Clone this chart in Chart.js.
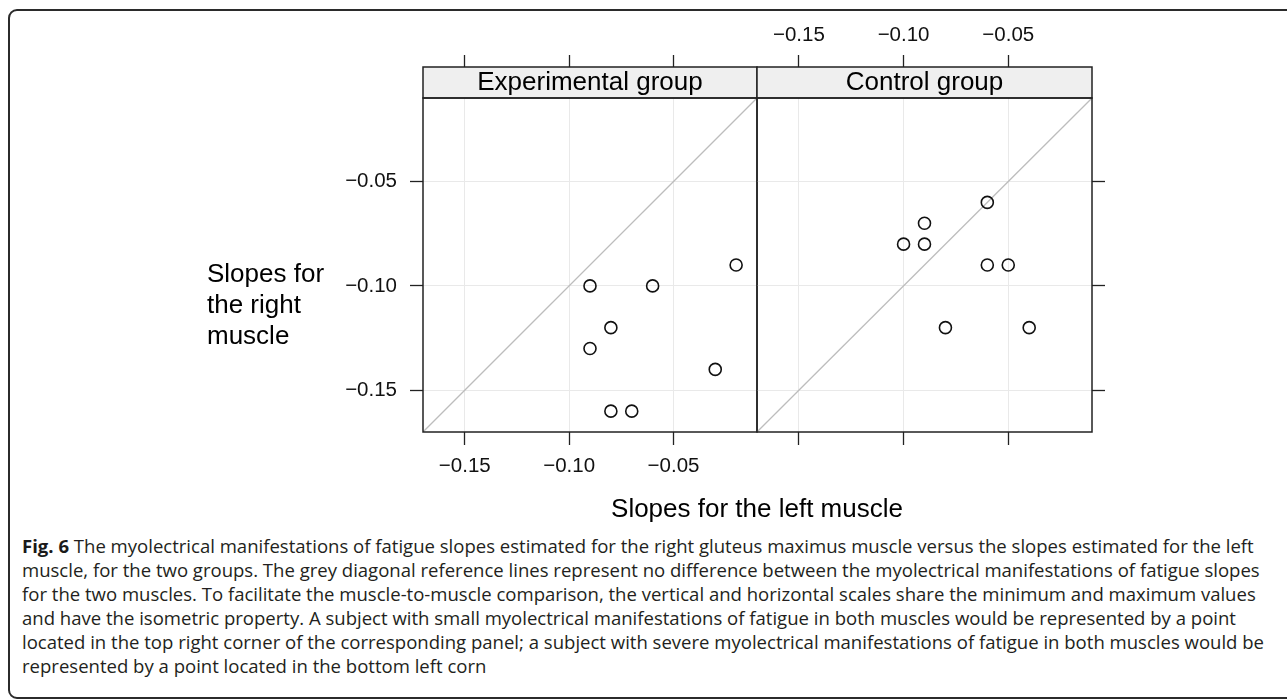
<!DOCTYPE html>
<html>
<head>
<meta charset="utf-8">
<script src="https://cdn.jsdelivr.net/npm/chart.js@4.4.1/dist/chart.umd.min.js"></script>
<style>
  html, body { margin:0; padding:0; background:#fff; width:1287px; height:699px; overflow:hidden; }
  body { position:relative; font-family:'Liberation Sans', Arial, sans-serif; color:#000; }
  #frame { position:absolute; left:8px; top:9px; width:1330px; height:690px; border:2px solid #2b2b2b; border-radius:9px; box-sizing:border-box; }
  canvas { position:absolute; left:0; top:0; }
  .strip { position:absolute; top:66px; height:32px; line-height:30px; font-size:26px; text-align:center; white-space:nowrap; }
  #ytitle { position:absolute; left:207px; top:258px; font-size:26px; line-height:31px; white-space:nowrap; }
  #xtitle { position:absolute; left:757px; top:493px; transform:translateX(-50%); font-size:26px; line-height:30px; white-space:nowrap; }
  #caption { position:absolute; left:22px; top:534px; font-family:'Open Sans', 'Noto Sans', sans-serif; font-size:17.5px; line-height:24px; color:#231f20; }
  #caption div { white-space:nowrap; transform-origin:0 50%; }
  #caption b { font-weight:700; color:#1a1a1a; }
</style>
</head>
<body>
<div id="frame"></div>
<canvas id="c1" width="1287" height="520"></canvas>
<canvas id="c2" width="1287" height="520"></canvas>
<div class="strip" id="s1"></div>
<div class="strip" id="s2"></div>
<div id="ytitle">Slopes for<br>the right<br>muscle</div>
<div id="xtitle">Slopes for the left muscle</div>
<div id="caption">
  <div><b>Fig. 6</b> The myolectrical manifestations of fatigue slopes estimated for the right gluteus maximus muscle versus the slopes estimated for the left</div>
  <div>muscle, for the two groups. The grey diagonal reference lines represent no difference between the myolectrical manifestations of fatigue slopes</div>
  <div>for the two muscles. To facilitate the muscle-to-muscle comparison, the vertical and horizontal scales share the minimum and maximum values</div>
  <div>and have the isometric property. A subject with small myolectrical manifestations of fatigue in both muscles would be represented by a point</div>
  <div>located in the top right corner of the corresponding panel; a subject with severe myolectrical manifestations of fatigue in both muscles would be</div>
  <div>represented by a point located in the bottom left corn</div>
</div>
<script>
// ---- data ----
const panelTitles = ["Experimental group", "Control group"];
const expLeft  = [-0.09, -0.06, -0.02, -0.08, -0.09, -0.03, -0.08, -0.07];
const expRight = [-0.10, -0.10, -0.09, -0.12, -0.13, -0.14, -0.16, -0.16];
const ctlLeft  = [-0.06, -0.09, -0.10, -0.09, -0.06, -0.05, -0.08, -0.04];
const ctlRight = [-0.06, -0.07, -0.08, -0.08, -0.09, -0.09, -0.12, -0.12];
const tickValues = [-0.15, -0.10, -0.05];
const axisRange = [-0.17, -0.01];
const diagonal = [-0.17, -0.01];

// ---- layout constants ----
const CW = 1287, CH = 520;
const P = { top: 98, bottom: 432, left: 423, mid: 757, right: 1092 };
const STRIP_H = 31;
const TICK_FONT = { family: "'Liberation Sans', Arial, sans-serif", size: 20.5 };
const GRID = '#e9e9e9', INK = '#222';

function fmt(v) { return (v < 0 ? '\u2212' : '') + Math.abs(v).toFixed(2); }
function setTicks(s) { s.ticks = tickValues.map(v => ({ value: v })); }
function blank() { return ''; }

const panelPlugin = {
  id: 'panelPlugin',
  afterDraw(chart) {
    const { ctx, chartArea: a } = chart;
    ctx.save();
    ctx.fillStyle = '#efefef';
    ctx.fillRect(a.left, a.top - STRIP_H, a.right - a.left, STRIP_H);
    ctx.strokeStyle = INK;
    ctx.lineWidth = 1.5;
    ctx.strokeRect(a.left, a.top - STRIP_H, a.right - a.left, STRIP_H);
    ctx.strokeRect(a.left, a.top, a.right - a.left, a.bottom - a.top);
    ctx.restore();
  }
};

function datasets(xs, ys) {
  return [
    { type: 'scatter', data: xs.map((x, i) => ({ x: x, y: ys[i] })),
      pointStyle: 'circle', pointRadius: 6, pointHoverRadius: 6, borderWidth: 1.6,
      borderColor: '#111', backgroundColor: 'rgba(0,0,0,0)', order: 0 },
    { type: 'line', data: diagonal.map(v => ({ x: v, y: v })),
      borderColor: '#bdbdbd', borderWidth: 1.3, pointRadius: 0, fill: false, order: 1 }
  ];
}

function axis(position, opts) {
  return Object.assign({
    type: 'linear', position: position, min: axisRange[0], max: axisRange[1],
    afterBuildTicks: setTicks,
    border: { display: false },
  }, opts);
}

const common = {
  responsive: false, animation: false, events: [],
  plugins: { legend: { display: false }, tooltip: { enabled: false } },
};

// Panel 1: Experimental group
new Chart(document.getElementById('c1'), {
  type: 'scatter',
  data: { datasets: datasets(expLeft, expRight) },
  options: Object.assign({}, common, {
    layout: { padding: { left: 0, right: CW - P.mid, top: 0, bottom: 0 } },
    scales: {
      x: axis('bottom', {
        afterFit: s => { s.height = CH - P.bottom; },
        ticks: { callback: fmt, padding: 9, font: TICK_FONT, color: '#111', maxRotation: 0, autoSkip: false },
        grid: { color: GRID, lineWidth: 1, tickColor: INK, tickLength: 13, tickWidth: 1.3 }
      }),
      xt: axis('top', {
        afterFit: s => { s.height = P.top; },
        ticks: { callback: blank, padding: 0, font: TICK_FONT, autoSkip: false, maxRotation: 0 },
        grid: { drawOnChartArea: false, tickColor: INK, tickLength: 43, tickWidth: 1.3 }
      }),
      y: axis('left', {
        afterFit: s => { s.width = P.left; },
        ticks: { callback: fmt, padding: 13, font: TICK_FONT, color: '#111', autoSkip: false },
        grid: { color: GRID, lineWidth: 1, tickColor: INK, tickLength: 13, tickWidth: 1.3 }
      })
    }
  }),
  plugins: [panelPlugin]
});

// Panel 2: Control group
new Chart(document.getElementById('c2'), {
  type: 'scatter',
  data: { datasets: datasets(ctlLeft, ctlRight) },
  options: Object.assign({}, common, {
    layout: { padding: { left: P.mid, right: 0, top: 0, bottom: 0 } },
    scales: {
      x: axis('top', {
        afterFit: s => { s.height = P.top; },
        ticks: { callback: fmt, padding: 7, font: TICK_FONT, color: '#111', maxRotation: 0, autoSkip: false },
        grid: { color: GRID, lineWidth: 1, tickColor: INK, tickLength: 43, tickWidth: 1.3 }
      }),
      xb: axis('bottom', {
        afterFit: s => { s.height = CH - P.bottom; },
        ticks: { callback: blank, padding: 0, font: TICK_FONT, autoSkip: false, maxRotation: 0 },
        grid: { drawOnChartArea: false, tickColor: INK, tickLength: 13, tickWidth: 1.3 }
      }),
      y: axis('right', {
        afterFit: s => { s.width = CW - P.right; },
        ticks: { callback: blank, padding: 0, font: TICK_FONT, autoSkip: false },
        grid: { color: GRID, lineWidth: 1, tickColor: INK, tickLength: 13, tickWidth: 1.3 }
      })
    }
  }),
  plugins: [panelPlugin]
});

// strip labels (HTML text over the canvas-drawn strips)
const s1 = document.getElementById('s1'), s2 = document.getElementById('s2');
s1.textContent = panelTitles[0]; s2.textContent = panelTitles[1];
s1.style.left = P.left + 'px'; s1.style.width = (P.mid - P.left) + 'px';
s2.style.left = P.mid + 'px'; s2.style.width = (P.right - P.mid) + 'px';

// fit caption lines to the reference text width
(function () {
  const lines = document.querySelectorAll('#caption div');
  const w = lines[0].getBoundingClientRect().width;
  const k = (1264 - 22) / w;
  lines.forEach(l => { l.style.transform = 'scaleX(' + k + ')'; });
})();
</script>
</body>
</html>
